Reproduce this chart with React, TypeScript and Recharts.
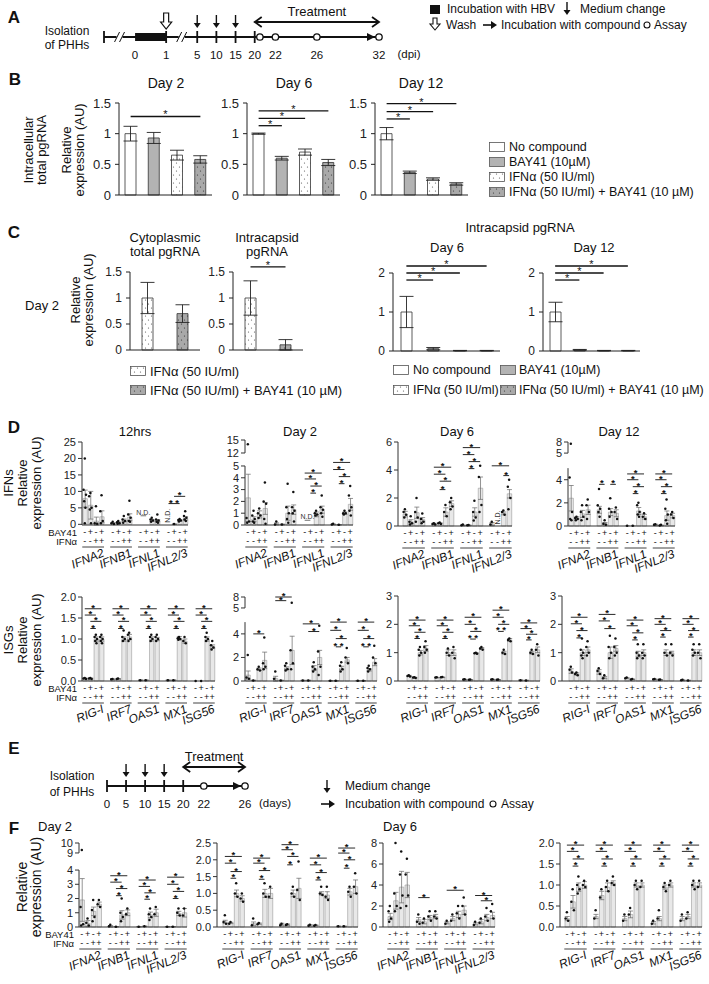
// Multi-panel HBV / IFN figure rebuilt with Recharts.
// Bar charts with error bars + per-sample dots, schematic timelines for A and E.
import React from "react";
import {
  Bar, Cell, ComposedChart, ErrorBar, Line, ReferenceDot, ReferenceLine,
  Scatter, XAxis, YAxis,
} from "recharts";

const SANS = "'Liberation Sans', Arial, sans-serif";
const INK = "#111";

// ---------------- data ----------------
// A / E timelines (days)
const A_TICK_DAYS = [0, 1, 5, 10, 15, 20, 22, 26, 32];
const A_MARK_DAYS = [-1, 1, 5, 10, 15, 20];
const A_BREAKS = [-0.5, 3];
const A_HBV = [0, 1];
const A_MEDIUM = [5, 10, 15];
const A_WASH = [1];
const A_ASSAY = [20.5, 22, 26, 32];
const A_TREAT = [20, 32];

const E_TICK_DAYS = [0, 5, 10, 15, 20, 22, 26];
const E_MARK_DAYS = [0, 5, 10, 15, 20];
const E_MEDIUM = [5, 10, 15];
const E_ASSAY = [22, 26];
const E_TREAT = [20, 26];

// B / C conditions: 0 none, 1 BAY41, 2 IFNa, 3 IFNa + BAY41
const COND_FILLS = ["#ffffff", "#b3b3b3", "url(#dotW)", "url(#dotG)"];
const COND_NAMES = ["No compound", "BAY41 (10µM)", "IFNα (50 IU/ml)", "IFNα (50 IU/ml) + BAY41 (10 µM)"];

const B_D2_MEAN = [1.0, 0.93, 0.65, 0.58];
const B_D2_ERR = [0.12, 0.09, 0.08, 0.06];
const B_D2_SIG = [[0, 3, 1.28]];
const B_D6_MEAN = [1.0, 0.6, 0.7, 0.53];
const B_D6_ERR = [0.01, 0.03, 0.05, 0.05];
const B_D6_SIG = [[0, 1, 1.13], [0, 2, 1.25], [0, 3, 1.37]];
const B_D12_MEAN = [1.0, 0.37, 0.26, 0.18];
const B_D12_ERR = [0.1, 0.02, 0.02, 0.02];
const B_D12_SIG = [[0, 1, 1.24], [0, 2, 1.36], [0, 3, 1.49]];

const C_CYTO_MEAN = [1.0, 0.7];
const C_CYTO_ERR = [0.3, 0.17];
const C_CAPS_MEAN = [1.0, 0.1];
const C_CAPS_ERR = [0.33, 0.1];
const C_CAPS_SIG = [[0, 1, 1.6]];
const C_D6_MEAN = [1.0, 0.06, 0.01, 0.01];
const C_D6_ERR = [0.4, 0.03, 0.005, 0.005];
const C_D12_MEAN = [1.0, 0.03, 0.01, 0.01];
const C_D12_ERR = [0.25, 0.01, 0.005, 0.005];
const C_SIG = [[0, 1, 1.82], [0, 2, 2.0], [0, 3, 2.18]];

// D / F: 4 bars per gene (BAY41 -,+,-,+ ; IFNa -,-,+,+)
const IFN_GENES = ["IFNA2", "IFNB1", "IFNL1", "IFNL2/3"];
const ISG_GENES = ["RIG-I", "IRF7", "OAS1", "MX1", "ISG56"];
const BAY_SIGNS = ["-", "+", "-", "+"];
const IFN_SIGNS = ["-", "-", "+", "+"];

const D12H_IFN_MEAN = [7.8, 5.8, 1.0, 2.3, 0.3, 0.5, 1.2, 2.2, 0, 0, 1.2, 1.1, 0, 0.05, 1.2, 1.8];
const D12H_IFN_ERR = [2.6, 4.2, 1.2, 1.8, 0.2, 0.2, 0.4, 1.0, 0, 0, 0.3, 0.3, 0, 0.05, 0.2, 0.5];
const D12H_IFN_PTS = [[20, 10.5, 9, 7, 5, 0.3], [9.5, 8.5, 5, 4.5, 0.3], [5.5, 0.3, 0.2], [8.8, 4, 1, 0.3], [0.8, 0.3, 0.1], [1, 0.6, 0.3, 0.2], [2.5, 1.5, 1, 0.5], [7.2, 3, 2, 1, 0.8], [], [], [2, 1.5, 1.2, 0.8], [3, 1.5, 1.2, 0.8, 0.5], [], [0.1], [1.6, 1.3, 1.2, 0.9], [4, 2.5, 2, 1.5, 1]];
const D12H_IFN_SIG = [[3, 1, 3, 8.5], [3, 0, 2, 6.3, "* *"]];
const D12H_IFN_ND = [[2, 0, 1, 2.6, 0], [3, 0, 0, 0.5, 1]];

const D2_IFN_MEAN = [2.3, 0.5, 0.9, 1.4, 0.1, 0.05, 1.0, 1.3, 0, 0, 0.9, 1.3, 0.05, 0.02, 1.0, 1.75];
const D2_IFN_ERR = [2.0, 0.2, 0.3, 0.5, 0.08, 0.03, 0.6, 0.4, 0, 0, 0.2, 0.3, 0.03, 0.02, 0.1, 0.5];
const D2_IFN_PTS = [[14, 0.6, 0.3, 0.2], [1.2, 0.8, 0.5, 0.3, 0.2], [1.4, 1, 0.8, 0.6], [3.6, 2, 1.8, 0.5, 0.1], [0.3, 0.05], [0.05], [3.5, 1.5, 1, 0.5, 0.2], [2.8, 1.5, 1.2, 1, 0.3], [], [], [1.2, 1, 0.9, 0.8], [2.5, 1.5, 1.3, 1, 0.7], [0.1, 0.05], [0.02], [1.2, 1, 1, 0.9], [3.3, 2.5, 1.5, 1.2, 0.8]];
const D2_IFN_SIG = [[2, 0, 3, 4.4], [2, 0, 2, 3.9], [2, 1, 3, 3.3], [2, 1, 2, 2.7], [3, 0, 3, 5.3], [3, 0, 2, 4.7], [3, 1, 3, 4.1], [3, 1, 2, 3.5]];
const D2_IFN_ND = [[2, 0, 1, 0.4, 0]];

const D6_IFN_MEAN = [0.85, 0.3, 0.95, 0.45, 0.15, 0.2, 1.0, 1.6, 0.05, 0.05, 1.0, 2.7, 0.15, 0, 0.9, 2.3];
const D6_IFN_ERR = [0.2, 0.15, 0.4, 0.15, 0.05, 0.03, 0.3, 0.2, 0.02, 0.02, 0.3, 0.8, 0.1, 0, 0.1, 0.3];
const D6_IFN_PTS = [[1.2, 1, 0.8, 0.6], [0.7, 0.3, 0.2, 0.1], [2.0, 1, 0.6, 0.3], [0.9, 0.5, 0.3, 0.2], [0.2, 0.15, 0.1], [0.25, 0.2, 0.15], [1.5, 1, 0.7], [2.0, 1.7, 1.4, 1.2], [0.1, 0.05], [0.08, 0.05], [1.8, 1, 0.6, 0.4], [4.3, 3.5, 1.5, 1.0], [0.3, 0.1], [], [1.1, 1, 0.8], [3.3, 2.8, 2, 1.2]];
const D6_IFN_SIG = [[1, 0, 3, 4.2], [1, 0, 2, 3.7], [1, 1, 3, 3.2], [1, 1, 2, 2.6], [2, 0, 3, 5.6], [2, 0, 2, 5.1], [2, 1, 3, 4.6], [2, 1, 2, 4.1], [3, 0, 3, 4.3], [3, 2, 3, 3.6]];
const D6_IFN_ND = [[3, 1, 1, 0.1, 1]];

const D12_IFN_MEAN = [2.4, 0.7, 1.05, 1.4, 1.4, 0.2, 1.2, 1.1, 0.02, 0.02, 1.3, 0.8, 0.1, 0.05, 0.9, 0.9];
const D12_IFN_ERR = [1.1, 0.1, 0.3, 0.4, 0.3, 0.1, 0.3, 0.3, 0, 0, 0.3, 0.2, 0.05, 0.03, 0.4, 0.2];
const D12_IFN_PTS = [[7.5, 4.2, 1.2, 0.6, 0.5], [0.8, 0.7, 0.6, 0.5], [1.8, 1.2, 0.8, 0.5], [2.3, 1.8, 1.2, 0.6], [3.2, 1.8, 1.5, 1.2, 0.8], [0.5, 0.2, 0.1], [2.4, 1.5, 1.2, 0.8], [1.6, 1.2, 0.6], [0.02], [0.02], [2.0, 1.8, 1.2, 1, 0.8], [1.1, 0.8, 0.6], [0.15, 0.1], [0.1, 0.05], [2.3, 1.5, 1, 0.5, 0.2], [1.2, 1, 0.7]];
const D12_IFN_SIG = [[1, 0, 1, 3.6], [1, 2, 3, 3.6], [2, 0, 3, 4.5], [2, 0, 2, 4.0], [2, 1, 3, 3.4], [2, 1, 2, 2.8], [3, 0, 3, 4.5], [3, 0, 2, 4.0], [3, 1, 3, 3.4], [3, 1, 2, 2.8]];

const D12H_ISG_MEAN = [0.06, 0.06, 1.0, 1.0, 0.04, 0.05, 1.0, 1.05, 0.02, 0.02, 1.0, 1.0, 0.02, 0.02, 1.02, 0.95, 0, 0, 1.0, 0.82];
const D12H_ISG_ERR = [0.01, 0.01, 0.05, 0.05, 0.01, 0.01, 0.05, 0.06, 0.005, 0.005, 0.05, 0.04, 0.005, 0.005, 0.04, 0.05, 0, 0, 0.05, 0.04];
const D12H_ISG_PTS = [[0.07, 0.06, 0.05], [0.07, 0.06, 0.05], [1.1, 1.05, 1, 0.95, 0.9], [1.1, 1.05, 1, 0.95, 0.9], [0.05, 0.04], [0.06, 0.05], [1.2, 1.05, 1, 0.95], [1.15, 1.1, 1, 0.95], [0.02], [0.02], [1.1, 1.05, 1, 0.95], [1.1, 1.05, 1, 0.95], [0.02], [0.02], [1.05, 1.02, 1, 0.98], [1.05, 0.95, 0.9], [0], [0], [1.15, 1.05, 1, 0.95], [0.95, 0.85, 0.8, 0.75]];
const D12H_ISG_SIG = [0, 1, 2, 3, 4].flatMap((g) => [[g, 0, 3, 1.72], [g, 0, 2, 1.57], [g, 1, 3, 1.42], [g, 1, 2, 1.25]]);

const D2_ISG_MEAN = [0.5, 0.05, 1.0, 1.75, 0.2, 0.05, 1.1, 2.6, 0.05, 0.05, 1.1, 2.0, 0.02, 0.02, 1.1, 1.8, 0.02, 0.02, 0.95, 1.6];
const D2_ISG_ERR = [0.35, 0.02, 0.1, 0.7, 0.2, 0.02, 0.1, 1.2, 0.02, 0.02, 0.2, 0.6, 0.01, 0.01, 0.15, 0.2, 0.01, 0.01, 0.1, 0.3];
const D2_ISG_PTS = [[2.2, 0.3, 0.2], [0.05], [1.2, 1, 0.9], [3.7, 1.5, 1.2, 1], [0.8, 0.2], [0.05], [1.5, 1.3, 1, 0.9], [6.4, 2.6, 1.5, 1.0], [0.05], [0.05], [1.6, 1.2, 1, 0.8], [4.7, 2.5, 1.2, 0.5], [0.02], [0.02], [1.6, 1.3, 1, 0.8], [2.8, 2, 1.5], [0.02], [0.02], [1.3, 1.1, 1, 0.8], [3.0, 2, 1.5]];
const D2_ISG_SIG = [[0, 1, 3, 4.0], [1, 0, 3, 8.0], [1, 0, 2, 7.0], [2, 0, 3, 4.85], [2, 1, 3, 4.2], [3, 0, 3, 5.0], [3, 0, 2, 4.3], [3, 1, 3, 3.6], [3, 1, 2, 2.9, "* *"], [4, 0, 3, 5.0], [4, 0, 2, 4.3], [4, 1, 3, 3.6], [4, 1, 2, 2.9, "* *"]];

const D6_ISG_MEAN = [0.18, 0.12, 1.0, 1.15, 0.12, 0.13, 1.0, 1.0, 0.05, 0.04, 0.98, 1.15, 0.05, 0.04, 1.0, 1.45, 0.03, 0.02, 1.0, 1.1];
const D6_ISG_ERR = [0.02, 0.01, 0.08, 0.1, 0.01, 0.01, 0.1, 0.1, 0.01, 0.01, 0.02, 0.03, 0.01, 0.01, 0.05, 0.05, 0.01, 0.01, 0.05, 0.1];
const D6_ISG_PTS = [[0.2, 0.18, 0.16], [0.13, 0.12, 0.11], [1.2, 1.1, 1, 0.9], [1.4, 1.2, 1.1, 1], [0.13, 0.12], [0.14, 0.13], [1.15, 1, 0.9], [1.2, 1, 0.8], [0.06, 0.05], [0.05, 0.04], [1.0, 0.98, 0.96], [1.2, 1.15, 1.1], [0.06, 0.05], [0.05, 0.04], [1.1, 1, 0.95], [1.5, 1.45, 1.4], [0.03], [0.02], [1.1, 1, 0.95], [1.3, 1.1, 0.9]];
const D6_ISG_SIG = [[0, 0, 3, 2.15], [0, 0, 2, 1.95], [0, 1, 3, 1.72], [0, 1, 2, 1.5], [1, 0, 3, 2.15], [1, 0, 2, 1.95], [1, 1, 3, 1.72], [1, 1, 2, 1.5], [2, 0, 3, 2.25], [2, 0, 2, 2.0], [2, 1, 3, 1.75], [2, 1, 2, 1.48, "* *"], [3, 0, 3, 2.5], [3, 0, 2, 2.25], [3, 1, 3, 2.0], [3, 1, 2, 1.75, "* *"], [4, 0, 3, 2.05], [4, 0, 2, 1.85], [4, 1, 3, 1.65], [4, 1, 2, 1.45]];

const D12_ISG_MEAN = [0.35, 0.25, 1.0, 1.1, 0.32, 0.12, 1.0, 1.15, 0.1, 0.06, 0.95, 1.0, 0.06, 0.04, 1.0, 1.0, 0.03, 0.02, 1.0, 1.0];
const D12_ISG_ERR = [0.08, 0.04, 0.1, 0.1, 0.08, 0.04, 0.2, 0.1, 0.02, 0.01, 0.1, 0.1, 0.01, 0.01, 0.1, 0.05, 0.01, 0.01, 0.1, 0.1];
const D12_ISG_PTS = [[0.5, 0.4, 0.3], [0.3, 0.25, 0.2], [1.5, 1.1, 1, 0.9, 0.8], [1.4, 1.2, 1, 0.9], [0.45, 0.35, 0.25], [0.2, 0.1], [1.6, 1.2, 1, 0.8], [1.5, 1.2, 1, 0.9], [0.12, 0.1], [0.07, 0.05], [1.3, 1, 0.9, 0.8], [1.3, 1, 0.9, 0.8], [0.07, 0.06], [0.05, 0.04], [1.3, 1, 0.9], [1.3, 1, 0.9], [0.04, 0.03], [0.02], [1.3, 1.1, 1, 0.9], [1.3, 1, 0.8]];
const D12_ISG_SIG = [[0, 0, 3, 2.25], [0, 0, 2, 2.02], [0, 1, 3, 1.78], [0, 1, 2, 1.52], [1, 0, 3, 2.35], [1, 0, 2, 2.12], [1, 1, 3, 1.85], [2, 0, 3, 2.15], [2, 0, 2, 1.95], [2, 1, 3, 1.7], [2, 1, 2, 1.45], [3, 0, 3, 2.2], [3, 0, 2, 2.0], [3, 1, 3, 1.78], [3, 1, 2, 1.55], [4, 0, 3, 2.2], [4, 0, 2, 2.0], [4, 1, 3, 1.78], [4, 1, 2, 1.55]];

const F2_IFN_MEAN = [1.9, 0.25, 1.1, 1.6, 0.05, 0.02, 0.85, 1.0, 0.02, 0.05, 0.85, 1.0, 0.02, 0.02, 0.95, 1.0];
const F2_IFN_ERR = [1.5, 0.2, 0.3, 0.15, 0.05, 0.01, 0.3, 0.2, 0.01, 0.02, 0.2, 0.25, 0.01, 0.01, 0.15, 0.3];
const F2_IFN_PTS = [[9.3, 1.4, 0.2, 0.1], [0.6, 0.3, 0.1], [1.9, 1.2, 0.7, 0.4], [1.9, 1.6, 1.4], [0.15, 0.05], [0.02], [2.0, 1, 0.7, 0.4], [1.3, 0.9], [0.02], [0.05], [1.3, 0.9, 0.7, 0.5], [1.4, 0.9], [0.02], [0.02], [1.3, 1, 0.8], [1.3, 0.8]];
const F2_IFN_SIG = [[1, 0, 3, 3.6], [1, 0, 2, 3.15], [1, 1, 3, 2.7], [1, 1, 2, 2.2], [2, 0, 3, 3.3], [2, 0, 2, 2.85], [2, 1, 3, 2.4], [2, 1, 2, 1.95], [3, 0, 3, 3.5], [3, 0, 2, 3.0], [3, 1, 3, 2.5], [3, 1, 2, 2.0]];

const F2_ISG_MEAN = [0.15, 0.12, 1.0, 0.85, 0.1, 0.1, 1.0, 1.0, 0.08, 0.07, 1.0, 1.15, 0.05, 0.05, 1.0, 0.95, 0.02, 0.02, 1.05, 1.2];
const F2_ISG_ERR = [0.05, 0.02, 0.1, 0.08, 0.05, 0.02, 0.12, 0.15, 0.03, 0.02, 0.1, 0.3, 0.02, 0.01, 0.05, 0.1, 0.01, 0.01, 0.1, 0.2];
const F2_ISG_PTS = [[0.35, 0.15, 0.1], [0.15, 0.1], [1.3, 1, 0.9], [1.0, 0.85, 0.75], [0.25, 0.05], [0.12, 0.08], [1.3, 1, 0.9], [1.2, 0.9], [0.1, 0.05], [0.08, 0.06], [1.2, 1, 0.9], [1.95, 1.1, 0.8], [0.07, 0.04], [0.06, 0.04], [1.2, 1, 0.95], [1.2, 0.9, 0.8], [0.02], [0.02], [1.2, 1.05, 0.9], [1.6, 1.2, 1.0]];
const F2_ISG_SIG = [[0, 0, 3, 2.1], [0, 0, 2, 1.9], [0, 1, 3, 1.65], [0, 1, 2, 1.45], [1, 0, 3, 2.05], [1, 0, 2, 1.9], [1, 1, 3, 1.68], [1, 1, 2, 1.42], [2, 0, 3, 2.45], [2, 0, 2, 2.3], [2, 1, 3, 2.1], [2, 1, 2, 1.85], [3, 0, 3, 2.05], [3, 0, 2, 1.85], [3, 1, 3, 1.62], [3, 1, 2, 1.4], [4, 0, 3, 2.35], [4, 0, 2, 2.2], [4, 1, 3, 2.0], [4, 1, 2, 1.75]];

const F6_IFN_MEAN = [1.0, 2.5, 3.8, 4.0, 0.7, 0.5, 0.9, 1.0, 0.4, 0.8, 1.2, 1.6, 0.3, 0.5, 0.9, 1.1];
const F6_IFN_ERR = [0.3, 0.8, 1.5, 1.2, 0.2, 0.2, 0.2, 0.2, 0.1, 0.2, 0.3, 0.4, 0.1, 0.2, 0.3, 0.3];
const F6_IFN_PTS = [[2, 1.5, 0.8, 0.5], [8, 3.2, 2, 1.5], [7.2, 5, 3, 1.8], [6.5, 5, 3, 2], [1.2, 0.5, 0.3], [0.8, 0.4], [1.5, 1, 0.6], [1.5, 1, 0.8], [0.6, 0.3], [1.2, 0.6], [2, 1.3, 0.8], [2.8, 2, 1.2], [0.5, 0.2], [0.8, 0.4], [1.8, 1, 0.6], [2.2, 1.5, 0.8]];
const F6_IFN_SIG = [[1, 0, 2, 2.8], [2, 0, 3, 3.5], [3, 0, 3, 3.0], [3, 1, 3, 2.5]];

const F6_ISG_MEAN = [0.2, 0.6, 0.95, 1.0, 0.25, 0.75, 0.95, 1.05, 0.2, 0.3, 1.0, 1.0, 0.1, 0.2, 0.95, 1.0, 0.2, 0.25, 1.0, 1.0];
const F6_ISG_ERR = [0.05, 0.15, 0.1, 0.08, 0.05, 0.1, 0.1, 0.05, 0.05, 0.08, 0.05, 0.05, 0.03, 0.05, 0.05, 0.05, 0.05, 0.05, 0.05, 0.05];
const F6_ISG_PTS = [[0.35, 0.2, 0.15], [0.9, 0.6, 0.4], [1.2, 1.0, 0.9, 0.8], [1.1, 1.0, 0.95], [0.4, 0.2], [0.9, 0.7], [1.1, 0.95, 0.85], [1.2, 1.05, 1.0], [0.3, 0.15], [0.45, 0.3], [1.1, 1.0, 0.9], [1.1, 0.95], [0.15, 0.08], [0.4, 0.2], [1.05, 0.95, 0.85], [1.1, 1.0], [0.3, 0.15], [0.35, 0.2], [1.1, 1.0, 0.9], [1.1, 0.95]];
const F6_ISG_SIG = [0, 1, 2, 3, 4].flatMap((g) => [[g, 0, 3, 1.95], [g, 0, 2, 1.8], [g, 1, 3, 1.62], [g, 1, 2, 1.45]]);

// schematic (non-linear) time axes as drawn in the figure
const tlA = (d: number) => (d <= 1 ? d * 3 : d <= 5 ? 3 + (d - 1) * 0.75 : d <= 20 ? 6 + (d - 5) * 0.37 : 11.55 + (d - 20));
const tlE = (d: number) => (d <= 20 ? d * 0.37 : 7.4 + (d - 20));

const JIT = [0, -1, 1, -0.5, 0.5, 0];

// ---------------- helpers ----------------
function Txt({ x, y, s = 12, b = false, it = false, rot = 0, a = "middle", children }: any) {
  const tx = a === "middle" ? "-50%" : a === "end" ? "-100%" : "0";
  return (
    <div style={{
      position: "absolute", left: x, top: y, whiteSpace: "nowrap", lineHeight: 1,
      transform: `translate(${tx},-50%)${rot ? ` rotate(${rot}deg)` : ""}`,
      fontSize: s, fontWeight: b ? 700 : 400, fontStyle: it ? "italic" : "normal",
      fontFamily: SANS, color: INK,
    }}>{children}</div>
  );
}

function Swatch({ x, y, fill }: any) {
  return (
    <svg style={{ position: "absolute", left: x, top: y - 5 }} width={17} height={11}>
      <rect x={0.5} y={0.5} width={15} height={9} fill={fill} stroke="#555" strokeWidth={0.8} />
    </svg>
  );
}

const downArrow = (cx: number, cy: number, top: number, tip: number) => (
  <g>
    <line x1={cx} x2={cx} y1={cy - top} y2={cy - tip - 4} stroke={INK} strokeWidth={1.4} />
    <polygon points={`${cx - 3.5},${cy - tip - 5} ${cx + 3.5},${cy - tip - 5} ${cx},${cy - tip}`} fill={INK} />
  </g>
);

// ---------------- timeline (A, E) ----------------
function Timeline({ x0, x1, lineY, map, from, to, tickDays, marks, breaks = [], block, medium, wash = [], assays, treat, treatY }: any) {
  const ML = 14, MR = 14, PH = 36, MT = 8, XH = 26;
  const pts = (ds: number[], y = 0) => ds.map((d) => ({ u: map(d), y }));
  return (
    <div style={{ position: "absolute", left: x0 - ML, top: lineY - PH - MT }}>
      <ComposedChart width={x1 - x0 + ML + MR} height={MT + PH + XH} margin={{ top: MT, right: MR, bottom: 0, left: ML }}>
        <XAxis type="number" dataKey="u" domain={[map(from), map(to)]} ticks={tickDays.map(map)}
          tickFormatter={(v: number) => String(tickDays[tickDays.map(map).indexOf(v)])}
          interval={0} axisLine={false} tickLine={false} tickMargin={8} height={XH}
          tick={{ fontSize: 11.5, fill: INK, fontFamily: SANS }} />
        <YAxis type="number" dataKey="y" domain={[0, PH]} hide />
        <ReferenceLine segment={[{ x: map(from), y: 0 }, { x: map(to), y: 0 }]} stroke={INK} strokeWidth={2} ifOverflow="visible" />
        {block && (
          <ReferenceLine segment={[{ x: map(block[0]), y: 0 }, { x: map(block[1]), y: 0 }]} stroke={INK} strokeWidth={8} ifOverflow="visible" />
        )}
        <ReferenceLine segment={[{ x: map(treat[0]), y: treatY }, { x: map(treat[1]), y: treatY }]} stroke={INK} strokeWidth={1.8}
          ifOverflow="visible" label={{ value: "Treatment", position: "top", offset: 6, fontSize: 13, fill: INK, fontFamily: SANS }} />
        <Scatter data={[{ u: map(treat[0]), y: treatY, d: -1 }, { u: map(treat[1]), y: treatY, d: 1 }]} isAnimationActive={false}
          shape={(p: any) => (
            <polyline points={`${p.cx - 7 * p.payload.d},${p.cy - 5} ${p.cx},${p.cy} ${p.cx - 7 * p.payload.d},${p.cy + 5}`} fill="none" stroke={INK} strokeWidth={1.8} />
          )} />
        <Scatter data={pts(marks)} isAnimationActive={false}
          shape={(p: any) => <line x1={p.cx} x2={p.cx} y1={p.cy - 6} y2={p.cy + 6} stroke={INK} strokeWidth={1.8} />} />
        <Scatter data={pts(breaks)} isAnimationActive={false}
          shape={(p: any) => (
            <g>
              <rect x={p.cx - 3} y={p.cy - 3} width={6} height={6} fill="#fff" />
              <line x1={p.cx - 5} y1={p.cy + 5} x2={p.cx} y2={p.cy - 5} stroke={INK} strokeWidth={1} />
              <line x1={p.cx} y1={p.cy + 5} x2={p.cx + 5} y2={p.cy - 5} stroke={INK} strokeWidth={1} />
            </g>
          )} />
        <Scatter data={pts(medium)} isAnimationActive={false} shape={(p: any) => downArrow(p.cx, p.cy, 22, 9)} />
        <Scatter data={pts(wash)} isAnimationActive={false}
          shape={(p: any) => {
            const c = p.cx, b = p.cy - 8;
            return <polygon points={`${c - 2.5},${b - 16} ${c + 2.5},${b - 16} ${c + 2.5},${b - 7} ${c + 5.5},${b - 7} ${c},${b} ${c - 5.5},${b - 7} ${c - 2.5},${b - 7}`} fill="#fff" stroke={INK} strokeWidth={1.2} />;
          }} />
        <Scatter data={pts([to])} isAnimationActive={false}
          shape={(p: any) => <polygon points={`${p.cx - 12},${p.cy - 4} ${p.cx - 4},${p.cy} ${p.cx - 12},${p.cy + 4}`} fill={INK} />} />
        <Scatter data={pts(assays)} isAnimationActive={false}
          shape={(p: any) => <circle cx={p.cx} cy={p.cy} r={3.2} fill="#fff" stroke={INK} strokeWidth={1.3} />} />
      </ComposedChart>
    </div>
  );
}

// ---------------- simple bars (B, C) ----------------
function SimpleBars({ x, top, base, plotW, yMax, ticks, conds, mean, err, sig = [], fs = 12 }: any) {
  const YW = 40, MT = 30, MR = 4, MB = 10;
  const rows = conds.map((c: number, i: number) => ({ k: "c" + c, c, m: mean[i], e: err[i] }));
  return (
    <div style={{ position: "absolute", left: x - YW, top: top - MT }}>
      <ComposedChart width={YW + plotW + MR} height={MT + (base - top) + 2 + MB} data={rows}
        margin={{ top: MT, right: MR, bottom: MB, left: 0 }}>
        <XAxis dataKey="k" height={2} tick={false} tickLine={false} axisLine={{ stroke: "#222" }} />
        <YAxis type="number" domain={[0, yMax]} ticks={ticks} interval={0} width={YW} tickSize={4} tickMargin={4}
          axisLine={{ stroke: "#222" }} tickLine={{ stroke: "#222" }}
          tick={{ fontSize: fs, fill: "#222", fontFamily: SANS }} />
        <Bar dataKey="m" barSize={11} stroke="#333" strokeWidth={0.8} isAnimationActive={false}>
          {rows.map((r: any) => <Cell key={r.k} fill={COND_FILLS[r.c]} />)}
          <ErrorBar dataKey="e" width={7} stroke="#222" strokeWidth={0.9} />
        </Bar>
        {sig.map(([a, b, y]: number[], i: number) => (
          <ReferenceLine key={i} segment={[{ x: rows[a].k, y }, { x: rows[b].k, y }]} stroke={INK} strokeWidth={1.3}
            ifOverflow="visible" label={{ value: "*", position: "top", offset: -2, fontSize: 11, fill: INK }} />
        ))}
      </ComposedChart>
    </div>
  );
}

// ---------------- gene panels (D, F) ----------------
function GeneChart(p: any) {
  const { x, top, base, plotW, padL = 0, genes, mean, err, pts, ticks = [], yMax = 1, dec = 0, brk, sig = [], nd = [], labels = false } = p;
  const YW = labels ? 60 : 30, MT = 26, XH = 50, MR = 4;
  const up = (v: number) => (brk ? brk.lo + brk.gap + (v - brk.hi) * brk.k : v);
  const tf = (v: number) => (!brk || v <= brk.lo || v < brk.hi ? v : up(v));
  const tVals: number[] = brk ? [...brk.lower, ...brk.upper.map(up)] : ticks;
  const tLabs: string[] = brk ? [...brk.lower, ...brk.upper].map(String) : ticks.map((t: number) => (dec ? t.toFixed(dec) : String(t)));
  const yTop = brk ? up(brk.upper[brk.upper.length - 1]) : yMax;
  const key = (g: number, b: number | string) => `${g}:${b}`;
  const rows: any[] = [];
  genes.forEach((_: string, g: number) => {
    for (let b = 0; b < 4; b++) {
      const i = g * 4 + b;
      const r: any = { k: key(g, b), m: tf(mean[i]), e: err[i] };
      (pts[i] || []).forEach((v: number, j: number) => { r["p" + j] = tf(v); });
      rows.push(r);
    }
    if (g < genes.length - 1) rows.push({ k: key(g, "gap") });
  });
  const bw = (plotW - padL) / rows.length;

  const renderTick = (tp: any) => {
    const [gs, bs] = String(tp.payload.value).split(":");
    if (bs === "gap") return <g />;
    const g = +gs, b = +bs, cx = tp.x, y = tp.y;
    const gx = cx + bw * 3.6, gy = y + 31;
    return (
      <g fontFamily={SANS} fill={INK}>
        <text x={cx} y={y + 10} textAnchor="middle" fontSize={9}>{BAY_SIGNS[b]}</text>
        <text x={cx} y={y + 19} textAnchor="middle" fontSize={9}>{IFN_SIGNS[b]}</text>
        {b === 0 && <line x1={cx - bw * 0.45} x2={cx + bw * 3.45} y1={y + 22} y2={y + 22} stroke={INK} strokeWidth={0.8} />}
        {b === 0 && (
          <text x={gx} y={gy} textAnchor="end" fontSize={12} fontStyle="italic" transform={`rotate(-22 ${gx} ${gy})`}>{genes[g]}</text>
        )}
        {labels && g === 0 && b === 0 && (
          <>
            <text x={cx - bw / 2 - padL - 5} y={y + 11} textAnchor="end" fontSize={9.5}>BAY41</text>
            <text x={cx - bw / 2 - padL - 5} y={y + 20} textAnchor="end" fontSize={9.5}>IFNα</text>
          </>
        )}
      </g>
    );
  };

  const dot = (j: number) => (dp: any) => {
    const k = `d${j}-${dp.index}`;
    if (dp.value == null || dp.cy == null || isNaN(dp.cy)) return <g key={k} />;
    return <circle key={k} cx={dp.cx + JIT[j] * bw * 0.22} cy={dp.cy} r={1.25} fill={INK} />;
  };

  return (
    <div style={{ position: "absolute", left: x - YW, top: top - MT }}>
      <ComposedChart width={YW + plotW + MR} height={MT + (base - top) + XH} data={rows}
        margin={{ top: MT, right: MR, bottom: 0, left: 0 }}>
        <XAxis dataKey="k" interval={0} tickSize={0} tickMargin={0} height={XH} tick={renderTick}
          axisLine={{ stroke: "#333" }} padding={{ left: padL, right: 0 }} />
        <XAxis xAxisId="n" type="number" domain={[0, 1]} hide />
        <YAxis type="number" domain={[0, yTop]} ticks={tVals} interval={0} width={YW} tickSize={4} tickMargin={2}
          tickFormatter={(v: number) => tLabs[tVals.indexOf(v)] ?? ""}
          axisLine={brk ? false : { stroke: "#333" }} tickLine={{ stroke: "#333" }}
          tick={{ fontSize: 11, fill: "#222", fontFamily: SANS }} />
        {brk && [[0, brk.lo], [up(brk.hi), yTop]].map(([a, b2]: number[], i: number) => (
          <ReferenceLine key={"ax" + i} xAxisId="n" segment={[{ x: 0, y: a }, { x: 0, y: b2 }]} stroke="#333" ifOverflow="visible" />
        ))}
        <Bar dataKey="m" barSize={Math.max(2, bw * 0.78)} fill="#e8e8e8" stroke="#9a9a9a" strokeWidth={0.6} isAnimationActive={false}>
          <ErrorBar dataKey="e" width={2.5} stroke="#666" strokeWidth={0.7} />
        </Bar>
        {[0, 1, 2, 3, 4, 5].map((j) => (
          <Line key={"p" + j} dataKey={"p" + j} stroke="none" isAnimationActive={false} activeDot={false}
            connectNulls={false} legendType="none" dot={dot(j)} />
        ))}
        {sig.map(([g, a, b, y, s]: any[], i: number) => (
          <ReferenceLine key={"s" + i} segment={[{ x: key(g, a), y: tf(y) }, { x: key(g, b), y: tf(y) }]}
            stroke={INK} strokeWidth={0.9} ifOverflow="visible"
            label={{ value: s || "*", position: "top", offset: -2, fontSize: 9.5, fill: INK, fontWeight: 700 }} />
        ))}
        {nd.map(([g, a, b, y, rot]: number[], i: number) =>
          rot ? (
            <ReferenceDot key={"n" + i} x={key(g, a)} y={tf(y)} r={0} ifOverflow="visible"
              shape={(sp: any) => (
                <text x={sp.cx + 2} y={sp.cy} transform={`rotate(-90 ${sp.cx + 2} ${sp.cy})`} fontSize={7} fontFamily={SANS} fill="#333">N.D.</text>
              )} />
          ) : (
            <ReferenceLine key={"n" + i} segment={[{ x: key(g, a), y: tf(y) }, { x: key(g, b), y: tf(y) }]}
              stroke="#333" strokeWidth={0.7} ifOverflow="visible"
              label={{ value: "N.D.", position: "top", offset: 1, fontSize: 7, fill: "#333" }} />
          ),
        )}
      </ComposedChart>
    </div>
  );
}

// ---------------- page ----------------
export default function App() {
  return (
    <div style={{ position: "absolute", left: 0, top: 0, width: 709, height: 984, background: "#fff", overflow: "hidden", fontFamily: SANS }}>
      <svg width={0} height={0} style={{ position: "absolute" }}>
        <defs>
          <pattern id="dotW" width={6} height={8} patternUnits="userSpaceOnUse">
            <rect width={6} height={8} fill="#fff" />
            <circle cx={1.5} cy={2} r={0.6} fill="#555" />
            <circle cx={4.5} cy={6} r={0.6} fill="#555" />
          </pattern>
          <pattern id="dotG" width={6} height={8} patternUnits="userSpaceOnUse">
            <rect width={6} height={8} fill="#a9a9a9" />
            <circle cx={1.5} cy={2} r={0.6} fill="#333" />
            <circle cx={4.5} cy={6} r={0.6} fill="#333" />
          </pattern>
        </defs>
      </svg>

      {/* ---- A ---- */}
      <Txt x={14} y={17} s={17} b>A</Txt>
      <Txt x={67} y={31}>Isolation</Txt>
      <Txt x={67} y={45}>of PHHs</Txt>
      <Timeline x0={104} x1={379} lineY={37} map={tlA} from={-1} to={32} tickDays={A_TICK_DAYS} marks={A_MARK_DAYS}
        breaks={A_BREAKS} block={A_HBV} medium={A_MEDIUM} wash={A_WASH} assays={A_ASSAY} treat={A_TREAT} treatY={15} />
      <Txt x={409} y={55} s={11.5}>(dpi)</Txt>
      <svg style={{ position: "absolute", left: 428, top: 3 }} width={16} height={30}>
        <rect x={2} y={2} width={10} height={9} fill={INK} />
        <polygon points="5,15 9,15 9,21 12,21 7,27 2,21 5,21" fill="#fff" stroke={INK} strokeWidth={1.1} />
      </svg>
      <Txt x={447} y={9} a="start">Incubation with HBV</Txt>
      <svg style={{ position: "absolute", left: 561, top: 1 }} width={12} height={16}>{downArrow(6, 16, 15, 2)}</svg>
      <Txt x={580} y={9} a="start">Medium change</Txt>
      <Txt x={446} y={25} a="start">Wash</Txt>
      <svg style={{ position: "absolute", left: 482, top: 19 }} width={16} height={12}>
        <line x1={1} x2={10} y1={6} y2={6} stroke={INK} strokeWidth={1.6} />
        <polygon points="9,2 15,6 9,10" fill={INK} />
      </svg>
      <Txt x={501} y={25} a="start">Incubation with compound</Txt>
      <svg style={{ position: "absolute", left: 642, top: 20 }} width={10} height={10}><circle cx={5} cy={5} r={3} fill="#fff" stroke={INK} strokeWidth={1.1} /></svg>
      <Txt x={654} y={25} a="start">Assay</Txt>

      {/* ---- B ---- */}
      <Txt x={15} y={79} s={17} b>B</Txt>
      <Txt x={28} y={150} s={13} rot={-90}>Intracellular</Txt>
      <Txt x={41} y={150} s={13} rot={-90}>total pgRNA</Txt>
      <Txt x={66} y={150} s={13} rot={-90}>Relative</Txt>
      <Txt x={79} y={150} s={13} rot={-90}>expression (AU)</Txt>
      <Txt x={166} y={83} s={14}>Day 2</Txt>
      <Txt x={294} y={83} s={14}>Day 6</Txt>
      <Txt x={421} y={83} s={14}>Day 12</Txt>
      <SimpleBars x={119} top={103} base={195} plotW={93} yMax={1.5} ticks={[0, 0.5, 1, 1.5]} conds={[0, 1, 2, 3]} mean={B_D2_MEAN} err={B_D2_ERR} sig={B_D2_SIG} fs={13} />
      <SimpleBars x={247} top={103} base={195} plotW={93} yMax={1.5} ticks={[0, 0.5, 1, 1.5]} conds={[0, 1, 2, 3]} mean={B_D6_MEAN} err={B_D6_ERR} sig={B_D6_SIG} fs={13} />
      <SimpleBars x={375} top={103} base={195} plotW={93} yMax={1.5} ticks={[0, 0.5, 1, 1.5]} conds={[0, 1, 2, 3]} mean={B_D12_MEAN} err={B_D12_ERR} sig={B_D12_SIG} fs={13} />
      {COND_NAMES.map((n, i) => (
        <React.Fragment key={n}>
          <Swatch x={489} y={147 + i * 15} fill={COND_FILLS[i]} />
          <Txt x={509} y={147 + i * 15} s={12.5} a="start">{n}</Txt>
        </React.Fragment>
      ))}

      {/* ---- C ---- */}
      <Txt x={14} y={232} s={17} b>C</Txt>
      <Txt x={42} y={305} s={13}>Day 2</Txt>
      <Txt x={75} y={300} s={13} rot={-90}>Relative</Txt>
      <Txt x={88} y={300} s={13} rot={-90}>expression (AU)</Txt>
      <Txt x={165} y={237} s={13}>Cytoplasmic</Txt>
      <Txt x={165} y={251} s={13}>total pgRNA</Txt>
      <Txt x={267} y={237} s={13}>Intracapsid</Txt>
      <Txt x={267} y={251} s={13}>pgRNA</Txt>
      <Txt x={520} y={227} s={13}>Intracapsid pgRNA</Txt>
      <Txt x={447} y={247} s={13}>Day 6</Txt>
      <Txt x={594} y={247} s={13}>Day 12</Txt>
      <SimpleBars x={130} top={272} base={350} plotW={70} yMax={1.5} ticks={[0, 0.5, 1, 1.5]} conds={[2, 3]} mean={C_CYTO_MEAN} err={C_CYTO_ERR} />
      <SimpleBars x={233} top={272} base={350} plotW={70} yMax={1.5} ticks={[0, 0.5, 1, 1.5]} conds={[2, 3]} mean={C_CAPS_MEAN} err={C_CAPS_ERR} sig={C_CAPS_SIG} />
      <SimpleBars x={393} top={273} base={351} plotW={107} yMax={2} ticks={[0, 1, 2]} conds={[0, 1, 2, 3]} mean={C_D6_MEAN} err={C_D6_ERR} sig={C_SIG} />
      <SimpleBars x={543} top={273} base={351} plotW={97} yMax={2} ticks={[0, 1, 2]} conds={[0, 1, 2, 3]} mean={C_D12_MEAN} err={C_D12_ERR} sig={C_SIG} />
      <Swatch x={130} y={371} fill={COND_FILLS[2]} />
      <Txt x={150} y={371} s={13} a="start">{COND_NAMES[2]}</Txt>
      <Swatch x={130} y={390} fill={COND_FILLS[3]} />
      <Txt x={150} y={390} s={13} a="start">{COND_NAMES[3]}</Txt>
      {[0, 1, 2, 3].map((i) => (
        <React.Fragment key={"cl" + i}>
          <Swatch x={i % 2 ? 500 : 393} y={i < 2 ? 370 : 390} fill={COND_FILLS[i]} />
          <Txt x={i % 2 ? 519 : 413} y={i < 2 ? 370 : 390} s={12.5} a="start">{COND_NAMES[i]}</Txt>
        </React.Fragment>
      ))}

      {/* ---- D ---- */}
      <Txt x={14} y={427} s={17} b>D</Txt>
      <Txt x={135} y={431} s={13}>12hrs</Txt>
      <Txt x={300} y={431} s={13}>Day 2</Txt>
      <Txt x={457} y={431} s={13}>Day 6</Txt>
      <Txt x={619} y={431} s={13}>Day 12</Txt>
      <Txt x={8} y={483} s={13} rot={-90}>IFNs</Txt>
      <Txt x={22} y={483} s={13} rot={-90}>Relative</Txt>
      <Txt x={36} y={483} s={13} rot={-90}>expression (AU)</Txt>
      <Txt x={8} y={640} s={13} rot={-90}>ISGs</Txt>
      <Txt x={22} y={640} s={13} rot={-90}>Relative</Txt>
      <Txt x={36} y={640} s={13} rot={-90}>expression (AU)</Txt>
      <GeneChart x={82} top={442} base={525} plotW={106} genes={IFN_GENES} mean={D12H_IFN_MEAN} err={D12H_IFN_ERR} pts={D12H_IFN_PTS}
        yMax={25} ticks={[0, 5, 10, 15, 20, 25]} sig={D12H_IFN_SIG} nd={D12H_IFN_ND} labels />
      <GeneChart x={245} top={440} base={525} plotW={108} genes={IFN_GENES} mean={D2_IFN_MEAN} err={D2_IFN_ERR} pts={D2_IFN_PTS}
        brk={{ lo: 5, hi: 12, gap: 1.1, k: 0.367, lower: [0, 1, 2, 3, 4, 5], upper: [12, 15] }} sig={D2_IFN_SIG} nd={D2_IFN_ND} />
      <GeneChart x={398} top={442} base={526} plotW={114} padL={4} genes={IFN_GENES} mean={D6_IFN_MEAN} err={D6_IFN_ERR} pts={D6_IFN_PTS}
        yMax={6} ticks={[0, 2, 4, 6]} sig={D6_IFN_SIG} nd={D6_IFN_ND} />
      <GeneChart x={568} top={442} base={526} plotW={107} genes={IFN_GENES} mean={D12_IFN_MEAN} err={D12_IFN_ERR} pts={D12_IFN_PTS}
        brk={{ lo: 5, hi: 5, gap: 1.3, k: 0.32, lower: [0, 2, 4], upper: [5, 8] }} sig={D12_IFN_SIG} />
      <GeneChart x={82} top={597} base={681} plotW={133} genes={ISG_GENES} mean={D12H_ISG_MEAN} err={D12H_ISG_ERR} pts={D12H_ISG_PTS}
        yMax={2} ticks={[0, 0.5, 1, 1.5, 2]} dec={1} sig={D12H_ISG_SIG} labels />
      <GeneChart x={245} top={597} base={681} plotW={132} genes={ISG_GENES} mean={D2_ISG_MEAN} err={D2_ISG_ERR} pts={D2_ISG_PTS}
        brk={{ lo: 5, hi: 5, gap: 1.2, k: 0.31, lower: [0, 2, 4], upper: [5, 8] }} sig={D2_ISG_SIG} />
      <GeneChart x={398} top={596} base={681} plotW={142} padL={8} genes={ISG_GENES} mean={D6_ISG_MEAN} err={D6_ISG_ERR} pts={D6_ISG_PTS}
        yMax={3} ticks={[0, 1, 2, 3]} sig={D6_ISG_SIG} />
      <GeneChart x={562} top={596} base={681} plotW={140} padL={6} genes={ISG_GENES} mean={D12_ISG_MEAN} err={D12_ISG_ERR} pts={D12_ISG_PTS}
        yMax={3} ticks={[0, 1, 2, 3]} sig={D12_ISG_SIG} />

      {/* ---- E ---- */}
      <Txt x={14} y={748} s={17} b>E</Txt>
      <Txt x={72} y={776}>Isolation</Txt>
      <Txt x={72} y={792}>of PHHs</Txt>
      <Timeline x0={107} x1={245} lineY={786} map={tlE} from={0} to={26} tickDays={E_TICK_DAYS} marks={E_MARK_DAYS}
        medium={E_MEDIUM} assays={E_ASSAY} treat={E_TREAT} treatY={19} />
      <Txt x={275} y={804} s={11.5}>(days)</Txt>
      <svg style={{ position: "absolute", left: 321, top: 779 }} width={12} height={16}>{downArrow(6, 16, 15, 2)}</svg>
      <Txt x={345} y={786} a="start">Medium change</Txt>
      <svg style={{ position: "absolute", left: 320, top: 798 }} width={16} height={12}>
        <line x1={1} x2={10} y1={6} y2={6} stroke={INK} strokeWidth={1.6} />
        <polygon points="9,2 15,6 9,10" fill={INK} />
      </svg>
      <Txt x={345} y={804} a="start">Incubation with compound</Txt>
      <svg style={{ position: "absolute", left: 488, top: 799 }} width={10} height={10}><circle cx={5} cy={5} r={3} fill="#fff" stroke={INK} strokeWidth={1.1} /></svg>
      <Txt x={501} y={804} a="start">Assay</Txt>

      {/* ---- F ---- */}
      <Txt x={14} y={828} s={17} b>F</Txt>
      <Txt x={55} y={826} s={13}>Day 2</Txt>
      <Txt x={400} y={826} s={13}>Day 6</Txt>
      <Txt x={22} y={887} s={14} rot={-90}>Relative</Txt>
      <Txt x={36} y={887} s={14} rot={-90}>expression (AU)</Txt>
      <GeneChart x={79} top={843} base={927} plotW={108} genes={IFN_GENES} mean={F2_IFN_MEAN} err={F2_IFN_ERR} pts={F2_IFN_PTS}
        brk={{ lo: 4, hi: 9, gap: 1.2, k: 0.7, lower: [0, 1, 2, 3, 4], upper: [9, 10] }} sig={F2_IFN_SIG} labels />
      <GeneChart x={217} top={843} base={927} plotW={141} padL={5} genes={ISG_GENES} mean={F2_ISG_MEAN} err={F2_ISG_ERR} pts={F2_ISG_PTS}
        yMax={2.5} ticks={[0, 0.5, 1, 1.5, 2, 2.5]} dec={1} sig={F2_ISG_SIG} />
      <GeneChart x={383} top={843} base={927} plotW={112} padL={4} genes={IFN_GENES} mean={F6_IFN_MEAN} err={F6_IFN_ERR} pts={F6_IFN_PTS}
        yMax={8} ticks={[0, 2, 4, 6, 8]} sig={F6_IFN_SIG} />
      <GeneChart x={560} top={843} base={927} plotW={142} padL={4} genes={ISG_GENES} mean={F6_ISG_MEAN} err={F6_ISG_ERR} pts={F6_ISG_PTS}
        yMax={2} ticks={[0, 0.5, 1, 1.5, 2]} dec={1} sig={F6_ISG_SIG} />
    </div>
  );
}
